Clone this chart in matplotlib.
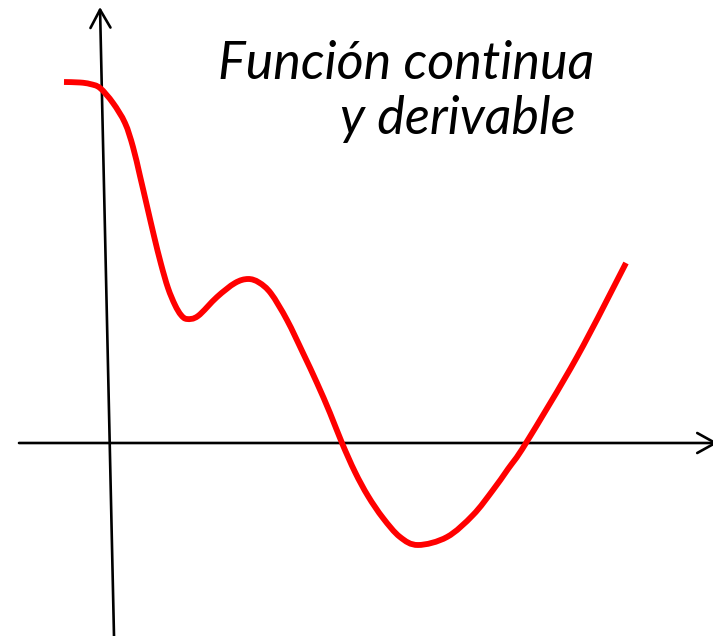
import matplotlib
matplotlib.use("Agg")
import matplotlib.pyplot as plt
import numpy as np
from matplotlib.path import Path
from matplotlib.patches import PathPatch

# Curve samples (pixel-space coordinates, y downwards)
curve_x = [64, 80, 90, 100, 113, 125, 133, 140, 147, 154, 161, 168, 175, 181, 187,
           198, 217, 235, 248, 259, 271, 287, 303, 317, 330, 342, 355, 368, 383,
           400, 418, 447, 473, 493, 508, 526, 577, 626]
curve_y = [82, 82.5, 84, 88, 103, 123, 147, 176, 206, 236, 264, 288, 305, 315, 319,
           316, 297, 283, 279, 282.5, 293.5, 320, 353, 383, 413, 443, 472, 496, 518,
           537, 545, 537, 515, 490, 469, 443, 357, 263]

# Axes (hand-drawn, y axis slightly tilted)
x_axis_from = (19, 443)
x_axis_to = (718, 443)
y_axis_from = (114, 636)
y_axis_to = (100, 7)

title_lines = ["Función continua", "y derivable"]
title_pos = [(218, 79), (340, 134)]

fig = plt.figure(figsize=(7.13, 6.36), dpi=100)
ax = fig.add_axes([0, 0, 1, 1])
ax.set_xlim(0, 713)
ax.set_ylim(636, 0)
ax.axis("off")

arrow_kw = dict(arrowstyle="->,head_length=0.65,head_width=0.36", color="black",
                lw=1.9, mutation_scale=20, shrinkA=0, shrinkB=0)
ax.annotate("", xy=x_axis_to, xytext=x_axis_from, arrowprops=arrow_kw,
            annotation_clip=False)
ax.annotate("", xy=y_axis_to, xytext=y_axis_from, arrowprops=arrow_kw,
            annotation_clip=False)

# smooth rendering of the read points as a Catmull-Rom style Bezier path
P = np.column_stack([curve_x, curve_y]).astype(float)
verts = [P[0]]
codes = [Path.MOVETO]
n = len(P)
for i in range(n - 1):
    p0 = P[i - 1] if i > 0 else P[i]
    p1 = P[i]
    p2 = P[i + 1]
    p3 = P[i + 2] if i + 2 < n else P[i + 1]
    c1 = p1 + (p2 - p0) / 6.0
    c2 = p2 - (p3 - p1) / 6.0
    verts += [c1, c2, p2]
    codes += [Path.CURVE4] * 3
patch = PathPatch(Path(verts, codes), fill=False, edgecolor="#ff0000", lw=4.2,
                  joinstyle="round", capstyle="butt", zorder=3)
ax.add_patch(patch)

for txt, (tx, ty) in zip(title_lines, title_pos):
    ax.text(tx, ty, txt, fontsize=37.5, family="Lato", style="italic",
            ha="left", va="baseline", color="black")

fig.savefig("out.png", dpi=100)
